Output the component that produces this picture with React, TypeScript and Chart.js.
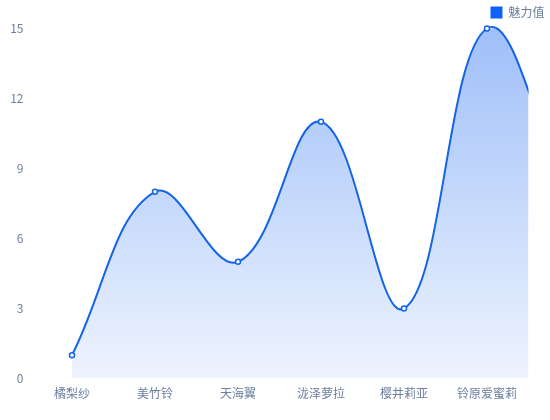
import React, { useEffect, useRef } from "react";
import { Chart, registerables } from "chart.js";

Chart.register(...registerables);

const categories: string[] = ["橘梨纱", "美竹铃", "天海翼", "泷泽萝拉", "樱井莉亚", "铃原爱蜜莉", ""];
const charmValues: number[] = [1, 8, 5, 11, 3, 15, 7.5];
const yTicks: number[] = [0, 3, 6, 9, 12, 15];
const seriesName = "魅力值";
const lastVisibleIndex = 5;

const FONT = '"Noto Sans CJK SC", "Noto Sans", sans-serif';
const TEXT = "#6b7f9e";
const BLUE = "#1464e6";

export default function App() {
  const ref = useRef<HTMLCanvasElement | null>(null);
  useEffect(() => {
    if (!ref.current) return;
    const chart = new Chart(ref.current, {
      type: "line",
      data: {
        labels: categories,
        datasets: [
          {
            label: seriesName,
            data: charmValues,
            borderColor: BLUE,
            borderWidth: 2,
            tension: 0.4,
            fill: "origin",
            clip: { left: 6, top: 6, right: 0, bottom: 0 } as any,
            backgroundColor: (ctx: any) => {
              const area = ctx.chart.chartArea;
              if (!area) return "rgba(20,100,230,0.3)";
              const g = ctx.chart.ctx.createLinearGradient(0, area.top, 0, area.bottom);
              g.addColorStop(0, "rgba(16,96,240,0.40)");
              g.addColorStop(1, "rgba(16,96,240,0.07)");
              return g;
            },
            pointRadius: 2.5,
            pointBorderWidth: 1.5,
            pointBackgroundColor: "#ffffff",
            pointBorderColor: BLUE,
          },
        ],
      },
      options: {
        animation: false,
        responsive: true,
        maintainAspectRatio: false,
        layout: { padding: { top: 1, left: 0, right: 0, bottom: 0 } },
        plugins: {
          legend: {
            display: true,
            position: "top",
            align: "end",
            labels: {
              boxWidth: 12,
              boxHeight: 12,
              padding: 5.5,
              color: TEXT,
              font: { family: FONT, size: 12 },
              generateLabels: () => [
                {
                  text: seriesName,
                  fillStyle: "#0f62f5",
                  strokeStyle: "#0f62f5",
                  lineWidth: 0,
                  fontColor: TEXT,
                  datasetIndex: 0,
                  hidden: false,
                },
              ],
            },
          },
          tooltip: { enabled: false },
        },
        scales: {
          x: {
            type: "category",
            offset: true,
            grid: { display: false, drawTicks: false },
            border: { display: false },
            afterDataLimits: (s: any) => {
              s.min = 0;
              s.max = lastVisibleIndex;
            },
            ticks: {
              color: TEXT,
              font: { family: FONT, size: 12 },
              padding: 8,
              maxRotation: 0,
              autoSkip: false,
            },
            afterFit: (s: any) => {
              s.height = 41.5;
            },
          },
          y: {
            min: 0,
            max: 15,
            grid: { display: false, drawTicks: false },
            border: { display: false },
            afterBuildTicks: (s: any) => {
              s.ticks = yTicks.map((v) => ({ value: v }));
            },
            ticks: {
              color: TEXT,
              font: { family: FONT, size: 12 },
              padding: 7,
            },
            afterFit: (s: any) => {
              s.width = 30.5;
            },
          },
          y2: {
            position: "right",
            display: true,
            grid: { display: false, drawTicks: false },
            border: { display: false },
            ticks: { display: false },
            afterFit: (s: any) => {
              s.width = 21.5;
            },
          },
        },
      },
    });
    return () => chart.destroy();
  }, []);
  return (
    <div style={{ position: "fixed", left: 0, top: 0, width: 550, height: 420, background: "#fff" }}>
      <canvas ref={ref} />
    </div>
  );
}
